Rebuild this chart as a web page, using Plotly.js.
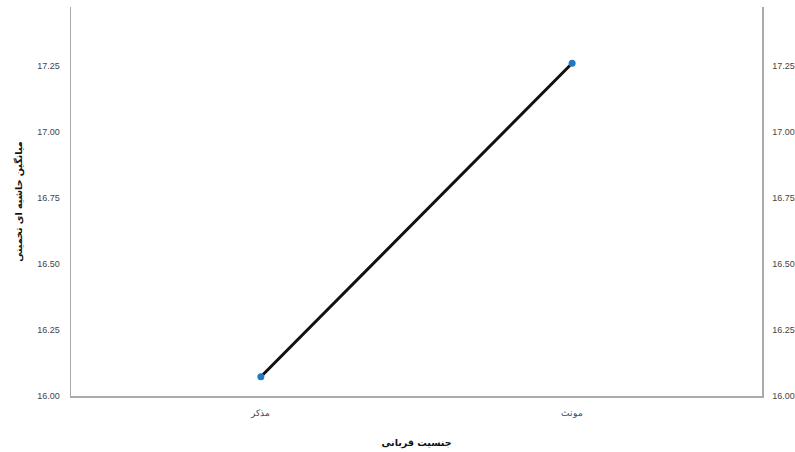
<!DOCTYPE html>
<html><head><meta charset="utf-8">
<script src="https://cdn.plot.ly/plotly-3.0.1.min.js"></script>
<style>html,body{margin:0;padding:0;background:#fff}#c{width:795px;height:452px}</style>
</head><body><div id="c"></div>
<script>
var categories = ['مذکر', 'مونث'];
var means = [16.073, 17.26];
var xTitle = 'جنسیت قربانی';
var yTitle = 'میانگین حاشیه ای تخمینی';
var tickVals = [16.00, 16.25, 16.50, 16.75, 17.00, 17.25];

var trace = {
  x: categories, y: means, type: 'scatter', mode: 'lines+markers',
  line: {color: '#111', width: 3},
  marker: {color: '#1f78c8', size: 7, line: {width: 0}},
  hoverinfo: 'skip', showlegend: false
};
var trace2 = {
  x: categories, y: means, yaxis: 'y2', type: 'scatter', mode: 'markers',
  marker: {opacity: 0}, hoverinfo: 'skip', showlegend: false
};
var axFont = {family: 'Liberation Sans, Arial, sans-serif', size: 9, color: '#444'};
var titleFont = {family: 'DejaVu Sans, sans-serif', size: 9.5, color: '#111', weight: 'bold'};
var layout = {
  width: 795, height: 452,
  margin: {l: 71, r: 33, t: 7, b: 56},
  paper_bgcolor: '#fff', plot_bgcolor: '#fff',
  xaxis: {
    type: 'category', range: [-0.61, 1.61], showgrid: false, zeroline: false,
    showline: true, linecolor: '#aaa', linewidth: 1.5,
    ticks: 'outside', ticklen: 8, tickcolor: 'rgba(0,0,0,0)',
    tickfont: axFont,
    title: {text: xTitle, font: titleFont, standoff: 21}
  },
  yaxis: {
    range: [16.0, 17.473], tickvals: tickVals, tickformat: '.2f',
    showgrid: false, zeroline: false, showline: true, linecolor: '#aaa', linewidth: 1.5,
    ticks: 'outside', ticklen: 8, tickcolor: 'rgba(0,0,0,0)', tickfont: axFont,
    title: {text: yTitle, font: titleFont, standoff: 13}
  },
  yaxis2: {
    overlaying: 'y', side: 'right', range: [16.0, 17.473], tickvals: tickVals, tickformat: '.2f',
    showgrid: false, zeroline: false, showline: true, linecolor: '#aaa', linewidth: 1.5,
    ticks: 'outside', ticklen: 7, tickcolor: 'rgba(0,0,0,0)', tickfont: axFont
  }
};
Plotly.newPlot('c', [trace2, trace], layout, {displayModeBar: false, staticPlot: true});
</script></body></html>
